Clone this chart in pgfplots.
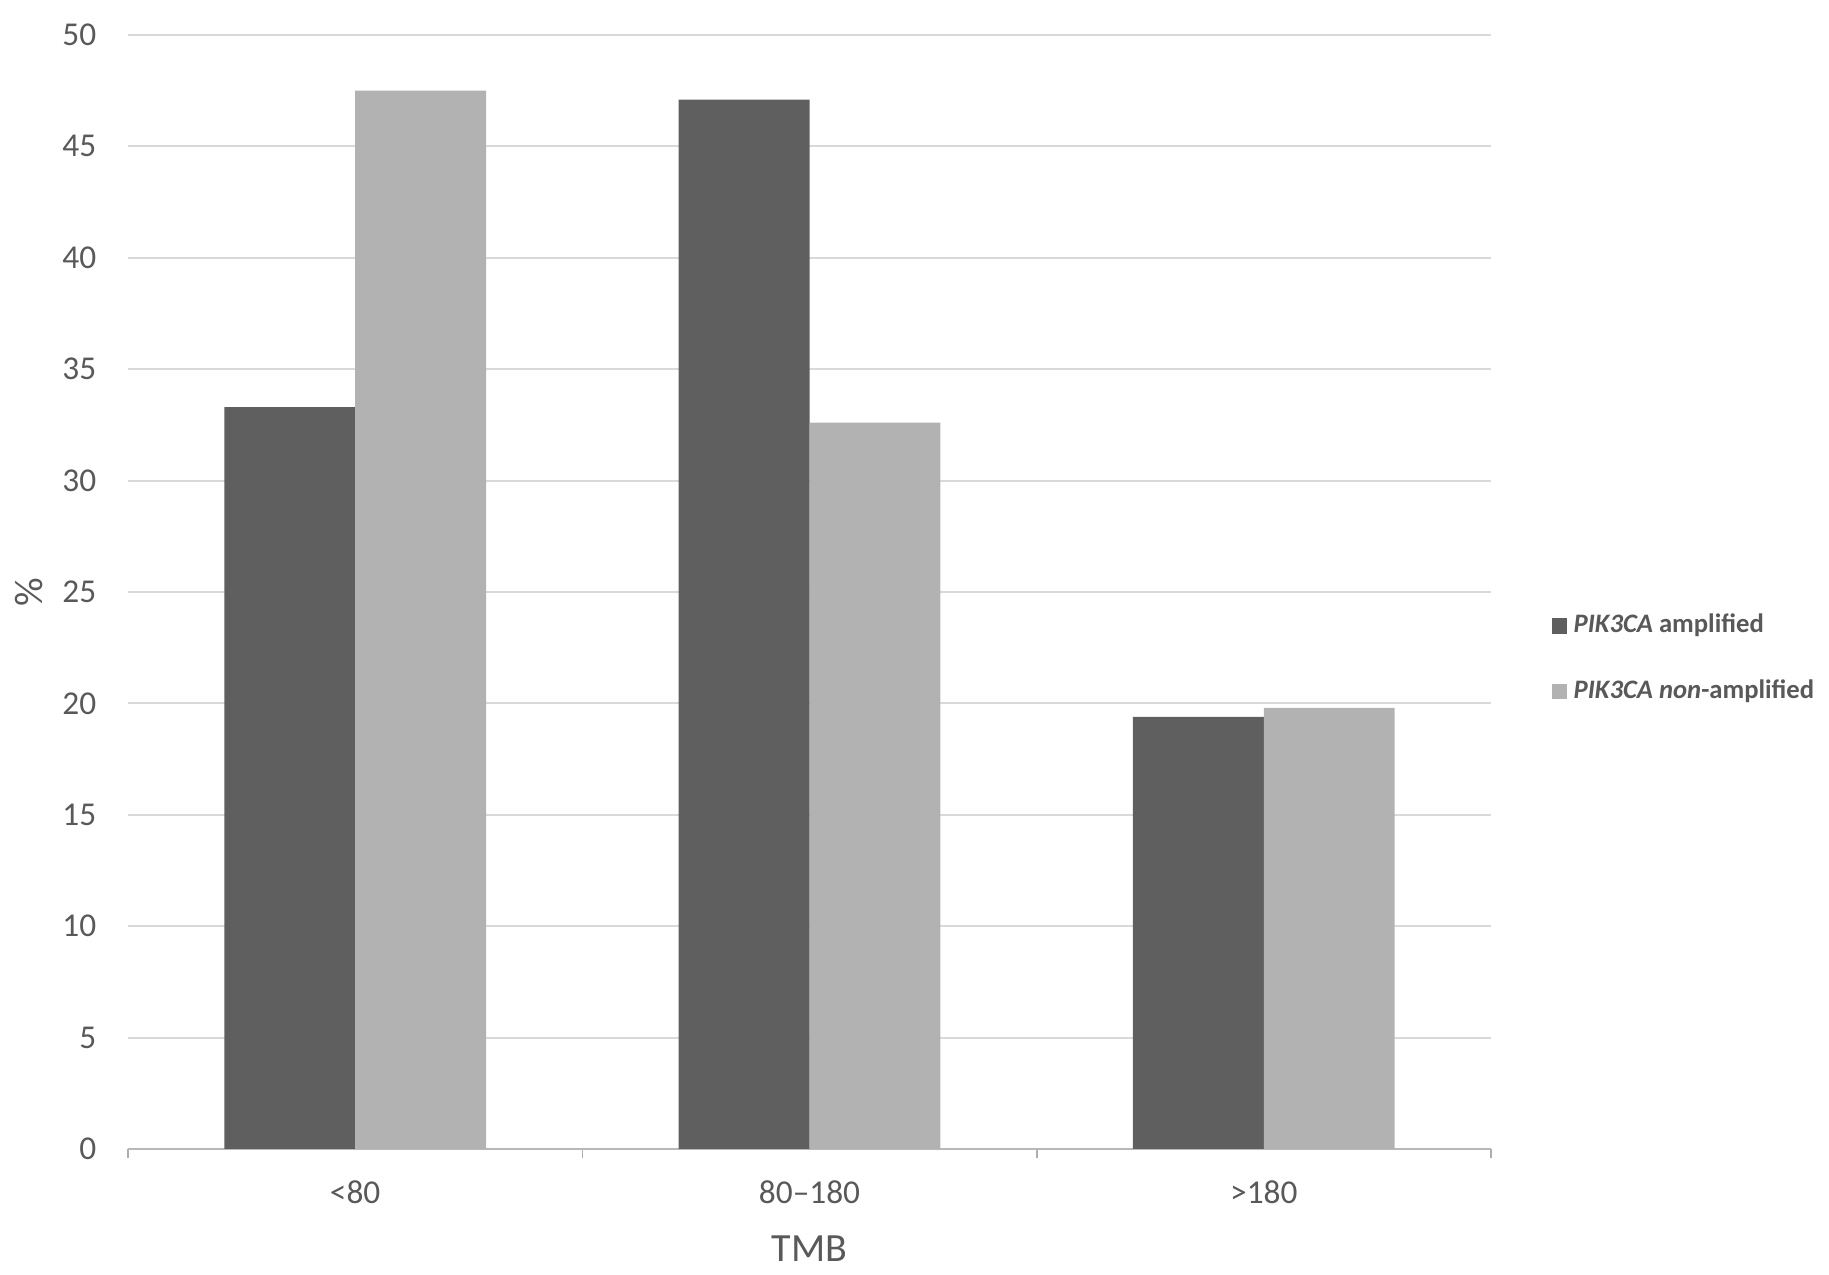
\documentclass[border=0pt]{standalone}
\usepackage{fontspec}
\setmainfont{Carlito}
\usepackage{pgfplots}
\pgfplotsset{compat=1.18}
\definecolor{amp}{HTML}{5F5F5F}
\definecolor{nonamp}{HTML}{B2B2B2}
\definecolor{gridc}{HTML}{D9D9D9}
\definecolor{txt}{HTML}{595959}

\begin{document}
\begin{tikzpicture}
% fixes the page to the reference's frame (1 px = 0.3 pt)
\useasboundingbox (-38.4pt,-37.8pt) rectangle (510.3pt,344.7pt);
\begin{axis}[
  at={(0,0)}, anchor=south west,
  scale only axis,
  width=408.9pt, height=334.2pt,
  ybar=0pt, bar width=0.288,
  xmin=-0.5, xmax=2.5,
  ymin=0, ymax=50, ytick={0,5,...,50},
  xtick={0,1,2}, xticklabels={<80,80--180,>180},
  minor xtick={-0.5,0.5,1.5,2.5},
  major tick length=0pt, minor tick length=2.8pt,
  tick align=outside,
  minor tick style={gridc!80!black, line width=0.5pt},
  axis lines*=left,
  y axis line style={draw=none},
  x axis line style={draw=gridc!85!black, line width=0.6pt},
  ymajorgrids, grid style={gridc, line width=0.6pt},
  ticklabel style={font=\fontsize{10}{12}\selectfont, text=txt},
  /pgf/number format/assume math mode=true,
  yticklabel style={xshift=-6pt},
  xticklabel style={yshift=-6pt},
  xlabel={TMB}, ylabel={\%},
  label style={font=\fontsize{12}{14}\selectfont, text=txt},
  xlabel style={at={(axis description cs:0.5,0)}, anchor=center, yshift=-30pt},
  ylabel style={at={(axis description cs:0,0.5)}, anchor=center, yshift=29.7pt},
  legend style={draw=none, at={(1.044,0.440)}, anchor=west,
    font=\fontsize{8}{10}\selectfont\bfseries, text=txt,
    row sep=8.5pt, inner sep=0pt,
    /tikz/every even column/.append style={column sep=2.8pt}},
  legend cell align=left,
  legend image code/.code={\fill[#1] (0pt,-2.3pt) rectangle (4.6pt,2.3pt);},
]
\addplot[fill=amp, draw=none] coordinates {(0,33.3) (1,47.1) (2,19.4)};
\addlegendentry{\textit{PIK3CA} amplified}
\addplot[fill=nonamp, draw=none] coordinates {(0,47.5) (1,32.6) (2,19.8)};
\addlegendentry{\textit{PIK3CA non}-amplified}
\end{axis}
\end{tikzpicture}
\end{document}
